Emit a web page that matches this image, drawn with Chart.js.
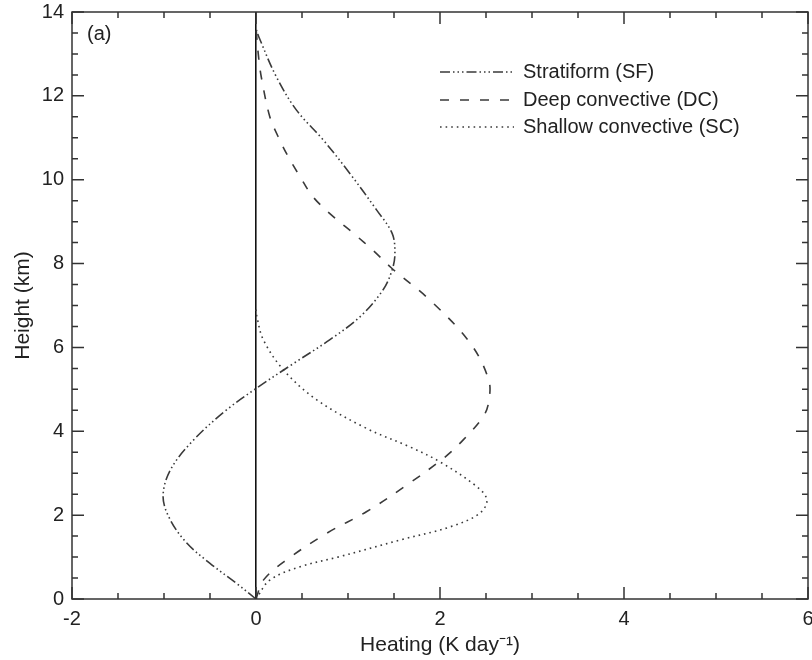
<!DOCTYPE html>
<html>
<head>
<meta charset="utf-8">
<script src="https://cdn.jsdelivr.net/npm/chart.js@4.4.1/dist/chart.umd.min.js"></script>
<style>
  html, body { margin: 0; padding: 0; background: #ffffff; }
  canvas { display: block; }
</style>
</head>
<body>
<canvas id="c" width="812" height="660"></canvas>
<script>
// ---- data ----
const seriesNames = ['Stratiform (SF)', 'Deep convective (DC)', 'Shallow convective (SC)'];

const sfHeating = [0, -0.21, -0.50, -0.75, -0.93, -1.01, -0.93, -0.68, -0.32, 0.00, 0.41, 0.80, 1.13, 1.38, 1.48, 1.51, 1.48, 1.31, 1.02, 0.73, 0.44, 0.22, 0.03, 0.00];
const sfHeight  = [0, 0.37, 0.85, 1.33, 1.88, 2.44, 3.08, 3.79, 4.51, 5.02, 5.62, 6.18, 6.73, 7.37, 7.85, 8.24, 8.72, 9.28, 10.15, 10.95, 11.66, 12.46, 13.41, 13.60];

const dcHeating = [0, 0.08, 0.33, 0.77, 1.20, 1.64, 2.04, 2.25, 2.47, 2.53, 2.53, 2.33, 1.89, 1.47, 1.28, 1.06, 0.84, 0.62, 0.48, 0.35, 0.24, 0.15, 0.06, 0.03, 0.00];
const dcHeight  = [0, 0.45, 0.93, 1.57, 2.08, 2.72, 3.36, 3.79, 4.35, 4.71, 5.22, 6.10, 7.13, 7.90, 8.30, 8.72, 9.12, 9.59, 10.07, 10.55, 11.03, 11.50, 12.42, 12.89, 13.60];

const scHeating = [0, 0.15, 0.48, 0.91, 1.57, 2.11, 2.43, 2.51, 2.40, 2.00, 1.67, 1.20, 0.66, 0.30, 0.08, 0.01, 0.00];
const scHeight  = [0, 0.45, 0.77, 1.01, 1.41, 1.72, 2.04, 2.36, 2.68, 3.27, 3.63, 4.07, 4.75, 5.46, 6.18, 6.73, 6.90];

const xTickValues = [-2, 0, 2, 4, 6];
const yTickValues = [0, 2, 4, 6, 8, 10, 12, 14];
const xMinorValues = [-1.5, -1, -0.5, 0.5, 1, 1.5, 2.5, 3, 3.5, 4.5, 5, 5.5];
const yMinorValues = [0.5, 1, 1.5, 2.5, 3, 3.5, 4.5, 5, 5.5, 6.5, 7, 7.5, 8.5, 9, 9.5, 10.5, 11, 11.5, 12.5, 13, 13.5];

const panelLabel = '(a)';
const xTitle = 'Heating (K day\u207B\u00B9)';
const yTitle = 'Height (km)';

// ---- styles ----
const FONT = '"Liberation Sans", Arial, Helvetica, sans-serif';
const INK = '#222222';
const LINE = '#3a3a3a';
const dashes = [[10, 3, 1.5, 3, 1.5, 3, 1.5, 3], [9, 11], [1.6, 4]];

function toPoints(xs, ys) { return xs.map((x, i) => ({ x: x, y: ys[i] })); }

const datasets = [
  [sfHeating, sfHeight],
  [dcHeating, dcHeight],
  [scHeating, scHeight]
].map((p, i) => ({
  label: seriesNames[i],
  data: toPoints(p[0], p[1]),
  showLine: true,
  borderColor: LINE,
  borderWidth: 1.6,
  borderDash: dashes[i],
  pointRadius: 0,
  tension: 0.35,
  fill: false
}));

const frameAndTicks = {
  id: 'frameAndTicks',
  afterDatasetsDraw(chart) {
    const { ctx, chartArea: a, scales } = chart;
    const xs = scales.x, ys = scales.y;
    ctx.save();
    ctx.strokeStyle = '#333333';
    ctx.lineWidth = 1.5;
    ctx.setLineDash([]);
    ctx.beginPath();
    const tick = (vals, len) => {
      vals.forEach(v => {
        const px = xs.getPixelForValue(v);
        ctx.moveTo(px, a.bottom); ctx.lineTo(px, a.bottom - len);
        ctx.moveTo(px, a.top); ctx.lineTo(px, a.top + len);
      });
    };
    const tickY = (vals, len) => {
      vals.forEach(v => {
        const py = ys.getPixelForValue(v);
        ctx.moveTo(a.left, py); ctx.lineTo(a.left + len, py);
        ctx.moveTo(a.right, py); ctx.lineTo(a.right - len, py);
      });
    };
    tick(xTickValues, 12); tick(xMinorValues, 6);
    tickY(yTickValues, 12); tickY(yMinorValues, 6);
    ctx.stroke();
    ctx.strokeRect(a.left, a.top, a.right - a.left, a.bottom - a.top);

    // panel label
    ctx.fillStyle = INK;
    ctx.font = '20px ' + FONT;
    ctx.textAlign = 'left';
    ctx.textBaseline = 'middle';
    ctx.fillText(panelLabel, a.left + 15, a.top + 22);

    // legend
    const lx0 = 440, lx1 = 514, tx = 523;
    const rows = [72, 100, 127];
    chart.data.datasets.forEach((d, i) => {
      ctx.beginPath();
      ctx.strokeStyle = LINE;
      ctx.lineWidth = 1.6;
      ctx.setLineDash(d.borderDash);
      ctx.moveTo(lx0, rows[i]); ctx.lineTo(lx1, rows[i]);
      ctx.stroke();
      ctx.setLineDash([]);
      ctx.fillText(d.label, tx, rows[i]);
    });
    ctx.restore();
  }
};

new Chart(document.getElementById('c'), {
  type: 'scatter',
  data: { datasets: datasets },
  options: {
    responsive: false,
    animation: false,
    devicePixelRatio: 1,
    layout: { padding: { top: 12, right: 4, left: 0, bottom: 0 } },
    plugins: { legend: { display: false }, tooltip: { enabled: false } },
    scales: {
      x: {
        type: 'linear', min: -2, max: 6,
        afterBuildTicks: s => { s.ticks = xTickValues.map(v => ({ value: v })); },
        afterFit: s => { s.height = 61; s.paddingLeft = 0; s.paddingRight = 0; },
        border: { display: false },
        grid: {
          drawTicks: false,
          lineWidth: 1.6,
          color: c => (c.tick && c.tick.value === 0) ? '#111111' : 'rgba(0,0,0,0)'
        },
        ticks: { color: INK, font: { family: FONT, size: 20 }, padding: 8, maxRotation: 0, autoSkip: false },
        title: { display: true, text: xTitle, color: INK, font: { family: FONT, size: 21 }, padding: { top: 0, bottom: 2 } }
      },
      y: {
        type: 'linear', min: 0, max: 14,
        afterBuildTicks: s => { s.ticks = yTickValues.map(v => ({ value: v })); },
        afterFit: s => { s.width = 72; s.paddingTop = 0; s.paddingBottom = 0; },
        border: { display: false },
        grid: { drawTicks: false, display: false },
        ticks: { color: INK, font: { family: FONT, size: 20 }, padding: 8, autoSkip: false },
        title: { display: true, text: yTitle, color: INK, font: { family: FONT, size: 21 }, padding: { top: 11, bottom: 0 } }
      }
    }
  },
  plugins: [frameAndTicks]
});
</script>
</body>
</html>
